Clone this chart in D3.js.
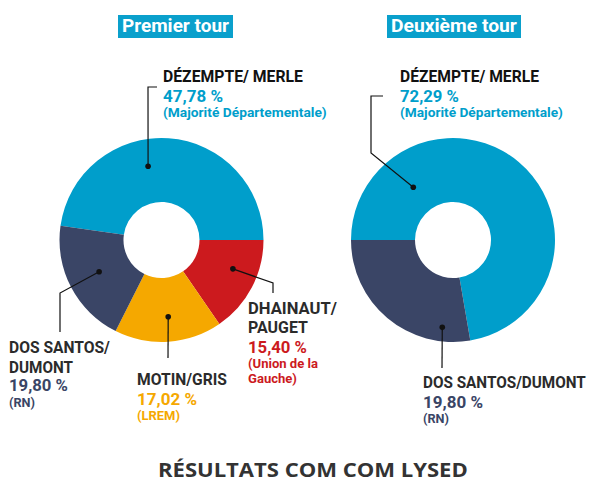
<!DOCTYPE html>
<html>
<head>
<meta charset="utf-8">
<script src="https://cdn.jsdelivr.net/npm/d3@7"></script>
<style>
  body { margin: 0; background: #fff; }
  svg text { font-family: Roboto, "Liberation Sans", sans-serif; font-weight: bold; }
</style>
</head>
<body>
<svg id="svg"></svg>
<script>
// Premier tour
const round1Names = ["DÉZEMPTE/ MERLE", "DHAINAUT/ PAUGET", "MOTIN/GRIS", "DOS SANTOS/ DUMONT"];
const round1Values = [47.78, 15.40, 17.02, 19.80];
const round1Parties = ["Majorité Départementale", "Union de la Gauche", "LREM", "RN"];
const round1Colors = ["#009ecb", "#cc1a1e", "#f5a800", "#3a4566"];

// Deuxième tour
const round2Names = ["DÉZEMPTE/ MERLE", "DOS SANTOS/DUMONT"];
const round2Values = [72.29, 27.71];
const round2Labels = ["72,29 %", "19,80 %"];   // as printed on the original
const round2Parties = ["Majorité Départementale", "RN"];
const round2Colors = ["#009ecb", "#3a4566"];

const titles = ["Premier tour", "Deuxième tour"];
const footer = "RÉSULTATS COM COM LYSED";

const w = 592;
const h = 486;
const rOuter = 102;
const rInner = 38;
const deg = Math.PI / 180;

let svg = d3.select("#svg")
  .attr("width", w)
  .attr("height", h)
  .attr("viewBox", "0 0 " + w + " " + h);

const fmt = v => d3.format(".2f")(v).replace(".", ",") + " %";

function drawDonut(cx, cy, values, colors, startDeg) {
  const pie = d3.pie().sort(null)
    .startAngle(startDeg * deg)
    .endAngle((startDeg + 360) * deg);
  const arc = d3.arc().innerRadius(rInner).outerRadius(rOuter);
  const g = svg.append("g").attr("transform", "translate(" + cx + "," + cy + ")");
  g.selectAll("path")
    .data(pie(values))
    .enter()
    .append("path")
    .attr("d", arc)
    .attr("fill", (d, i) => colors[i]);
  return g;
}

// dot placed in polar coords, then a polyline out to the text
function leader(g, angleDeg, r, pts) {
  const x = Math.sin(angleDeg * deg) * r;
  const y = -Math.cos(angleDeg * deg) * r;
  const line = [[x, y]].concat(pts);
  g.append("path")
    .attr("d", d3.line()(line))
    .attr("fill", "none")
    .attr("stroke", "#111")
    .attr("stroke-width", 1.2);
  g.append("circle")
    .attr("cx", x).attr("cy", y).attr("r", 2.8)
    .attr("fill", "#111");
}

// text scaled horizontally to the width it has in the print (condensed face)
function squeezed(x, y, text, size, len, color, anchor, family) {
  const t = svg.append("text")
    .attr("fill", color)
    .style("font-size", size + "px")
    .text(text);
  if (family) t.style("font-family", family);
  const natural = t.node().getComputedTextLength();
  const sx = Math.min(1.15, len / natural);
  const x0 = anchor === "middle" ? x - natural * sx / 2 : x;
  t.attr("transform", "translate(" + x0 + "," + y + ") scale(" + sx + ",1)");
  return t;
}

function label(x, y, lines) {
  let dy = 0;
  lines.forEach(l => {
    squeezed(x, y + dy, l.text, l.size, l.len, l.color);
    dy += l.gap || 0;
  });
}

// title boxes
function titleBox(x, bw, text, tlen) {
  svg.append("rect")
    .attr("x", x).attr("y", 15)
    .attr("width", bw).attr("height", 23)
    .attr("fill", "#0aa0cc");
  squeezed(x + bw / 2, 32, text, 19, tlen, "#fff", "middle");
}
titleBox(118, 115, titles[0], 107);
titleBox(387, 134, titles[1], 126);

// ---- Premier tour ----
const g1 = drawDonut(161.5, 240, round1Values, round1Colors, -82);
leader(g1, -10.3, 75, [[-13.5, -153], [-4.5, -153]]);
leader(g1, 112, 77, [[111.5, 43], [111.5, 53]]);
leader(g1, 175, 77, [[6.5, 118]]);
leader(g1, 243, 70, [[-101.5, 53], [-101.5, 92]]);

const dark = "#2b2b2b";
label(163, 82, [
  { text: round1Names[0], color: "#111", size: 17, gap: 20, len: 140 },
  { text: fmt(round1Values[0]), color: round1Colors[0], size: 16.5, gap: 15, len: 60 },
  { text: "(" + round1Parties[0] + ")", color: round1Colors[0], size: 13, len: 164 }
]);
label(248, 314, [
  { text: "DHAINAUT/", color: dark, size: 17, gap: 19, len: 89 },
  { text: "PAUGET", color: dark, size: 17, gap: 20, len: 60 },
  { text: fmt(round1Values[1]), color: round1Colors[1], size: 16.5, gap: 15, len: 59 },
  { text: "(Union de la", color: round1Colors[1], size: 13, gap: 15, len: 70 },
  { text: "Gauche)", color: round1Colors[1], size: 13, len: 49 }
]);
label(137, 385, [
  { text: round1Names[2], color: dark, size: 17, gap: 20, len: 90 },
  { text: fmt(round1Values[2]), color: round1Colors[2], size: 16.5, gap: 15, len: 60 },
  { text: "(" + round1Parties[2] + ")", color: round1Colors[2], size: 13, len: 43 }
]);
label(9, 353, [
  { text: "DOS SANTOS/", color: dark, size: 17, gap: 20, len: 101 },
  { text: "DUMONT", color: dark, size: 17, gap: 18, len: 64 },
  { text: fmt(round1Values[3]), color: round1Colors[3], size: 16.5, gap: 16, len: 59 },
  { text: "(" + round1Parties[3] + ")", color: round1Colors[3], size: 13, len: 26 }
]);

// ---- Deuxième tour ----
const g2 = drawDonut(453, 240, round2Values, round2Colors, -90);
leader(g2, -37, 66, [[-82, -87], [-82, -144], [-70, -144]]);
leader(g2, 187, 88, [[-11, 128]]);

label(400, 82, [
  { text: round2Names[0], color: "#111", size: 17, gap: 20, len: 139 },
  { text: round2Labels[0], color: round2Colors[0], size: 16.5, gap: 15, len: 59 },
  { text: "(" + round2Parties[0] + ")", color: round2Colors[0], size: 13, len: 163 }
]);
label(423, 388, [
  { text: round2Names[1], color: dark, size: 17, gap: 20, len: 163 },
  { text: round2Labels[1], color: round2Colors[1], size: 16.5, gap: 15, len: 60 },
  { text: "(" + round2Parties[1] + ")", color: round2Colors[1], size: 13, len: 26 }
]);

// footer
squeezed(313, 477, footer, 20, 310, "#333", "middle", "'Open Sans', sans-serif");
</script>
</body>
</html>
